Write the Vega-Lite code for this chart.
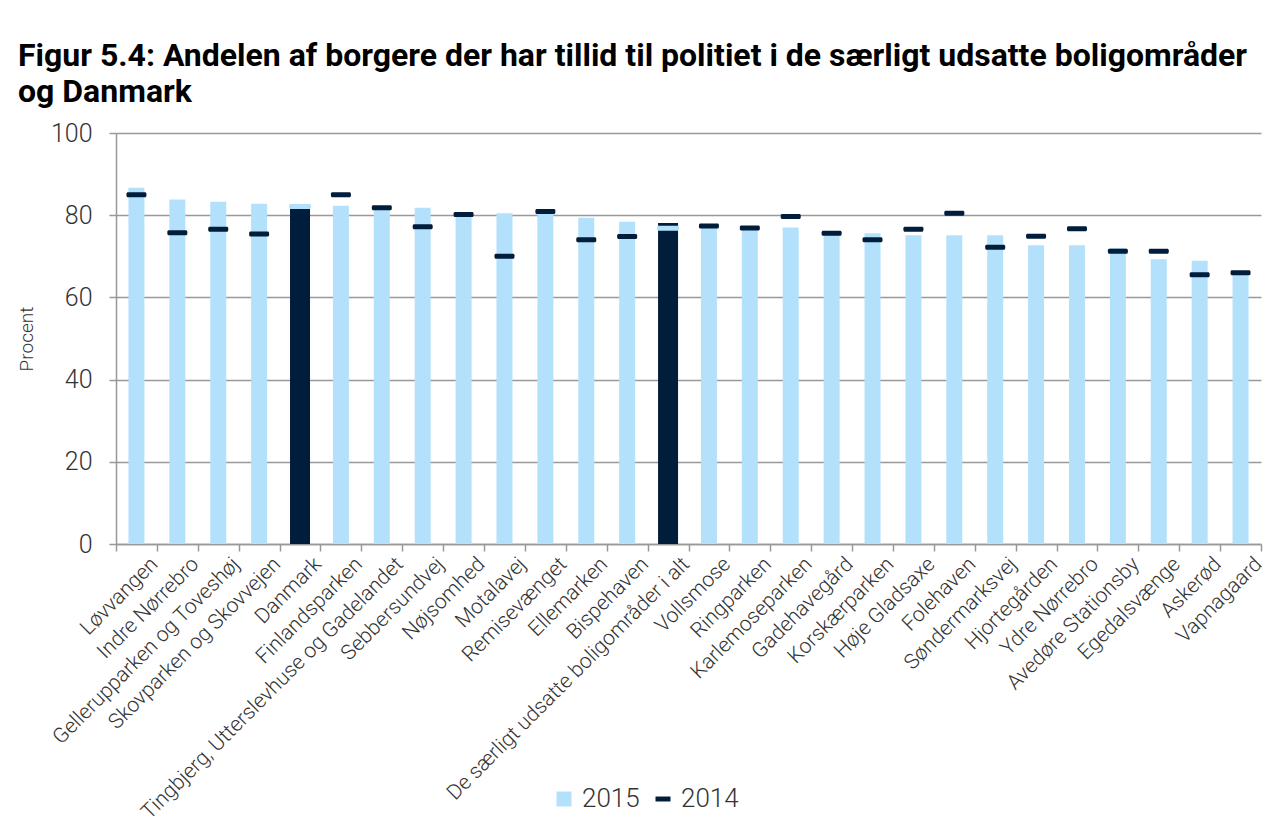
{
  "$schema": "https://vega.github.io/schema/vega-lite/v6.json",
  "autosize": {"type": "none"},
  "width": 1145,
  "height": 411,
  "padding": {"left": 116, "top": 133, "right": 16, "bottom": 286},
  "background": "white",
  "title": {
    "text": ["Figur 5.4: Andelen af borgere der har tillid til politiet i de særligt udsatte boligområder", "og Danmark"],
    "anchor": "start",
    "frame": "group",
    "dx": -98,
    "offset": 12,
    "font": "Roboto",
    "fontSize": 32,
    "fontWeight": "bold",
    "color": "#000000",
    "lineHeight": 36
  },
  "data": {
    "values": [
      {"name": "Løvvangen", "v2015": 86.7, "v2014": 85.0, "hl": false},
      {"name": "Indre Nørrebro", "v2015": 83.8, "v2014": 75.7, "hl": false},
      {"name": "Gellerupparken og Toveshøj", "v2015": 83.3, "v2014": 76.6, "hl": false},
      {"name": "Skovparken og Skovvejen", "v2015": 82.8, "v2014": 75.4, "hl": false},
      {"name": "Danmark", "v2015": 82.3, "v2014": 82.1, "hl": true},
      {"name": "Finlandsparken", "v2015": 82.3, "v2014": 85.0, "hl": false},
      {"name": "Tingbjerg, Utterslevhuse og Gadelandet", "v2015": 81.9, "v2014": 81.8, "hl": false},
      {"name": "Sebbersundvej", "v2015": 81.8, "v2014": 77.2, "hl": false},
      {"name": "Nøjsomhed", "v2015": 80.7, "v2014": 80.2, "hl": false},
      {"name": "Motalavej", "v2015": 80.5, "v2014": 70.0, "hl": false},
      {"name": "Remisevænget", "v2015": 80.4, "v2014": 80.9, "hl": false},
      {"name": "Ellemarken", "v2015": 79.4, "v2014": 74.0, "hl": false},
      {"name": "Bispehaven", "v2015": 78.4, "v2014": 74.8, "hl": false},
      {"name": "De særligt udsatte boligområder i alt", "v2015": 78.1, "v2014": 76.8, "hl": true},
      {"name": "Vollsmose", "v2015": 77.7, "v2014": 77.4, "hl": false},
      {"name": "Ringparken", "v2015": 77.2, "v2014": 76.9, "hl": false},
      {"name": "Karlemoseparken", "v2015": 77.0, "v2014": 79.7, "hl": false},
      {"name": "Gadehavegård", "v2015": 75.9, "v2014": 75.6, "hl": false},
      {"name": "Korskærparken", "v2015": 75.6, "v2014": 74.0, "hl": false},
      {"name": "Høje Gladsaxe", "v2015": 75.1, "v2014": 76.6, "hl": false},
      {"name": "Folehaven", "v2015": 75.1, "v2014": 80.5, "hl": false},
      {"name": "Søndermarksvej", "v2015": 75.1, "v2014": 72.2, "hl": false},
      {"name": "Hjortegården", "v2015": 72.7, "v2014": 74.9, "hl": false},
      {"name": "Ydre Nørrebro", "v2015": 72.7, "v2014": 76.7, "hl": false},
      {"name": "Avedøre Stationsby", "v2015": 72.0, "v2014": 71.2, "hl": false},
      {"name": "Egedalsvænge", "v2015": 69.3, "v2014": 71.2, "hl": false},
      {"name": "Askerød", "v2015": 68.9, "v2014": 65.5, "hl": false},
      {"name": "Vapnagaard", "v2015": 66.3, "v2014": 66.0, "hl": false}
    ]
  },
  "encoding": {
    "x": {
      "field": "name",
      "type": "nominal",
      "sort": null,
      "scale": {"domain": ["Løvvangen", "Indre Nørrebro", "Gellerupparken og Toveshøj", "Skovparken og Skovvejen", "Danmark", "Finlandsparken", "Tingbjerg, Utterslevhuse og Gadelandet", "Sebbersundvej", "Nøjsomhed", "Motalavej", "Remisevænget", "Ellemarken", "Bispehaven", "De særligt udsatte boligområder i alt", "Vollsmose", "Ringparken", "Karlemoseparken", "Gadehavegård", "Korskærparken", "Høje Gladsaxe", "Folehaven", "Søndermarksvej", "Hjortegården", "Ydre Nørrebro", "Avedøre Stationsby", "Egedalsvænge", "Askerød", "Vapnagaard"], "paddingInner": 0, "paddingOuter": 0},
      "axis": {
        "title": null,
        "tickBand": "extent",
        "tickSize": 7,
        "tickColor": "#999999",
        "tickWidth": 1.5,
        "domainColor": "#999999",
        "domainWidth": 1.5,
        "labelAngle": -45,
        "labelFont": "Roboto",
        "labelFontWeight": 300,
        "labelFontSize": 21,
        "labelColor": "#333333",
        "labelPadding": 2,
        "labelOffset": 10,
        "labelLimit": 0,
        "grid": false
      }
    }
  },
  "layer": [
    {
      "transform": [{"filter": "!datum.hl"}],
      "mark": {"type": "bar", "width": 16},
      "encoding": {
        "y": {
          "field": "v2015",
          "type": "quantitative",
          "scale": {"domain": [0, 100], "nice": false},
          "axis": {
            "title": "Procent",
            "titleFont": "Roboto",
            "titleFontWeight": 300,
            "titleFontSize": 19,
            "titleColor": "#333333",
            "titlePadding": 14,
            "values": [0, 20, 40, 60, 80, 100],
            "grid": true,
            "gridColor": "#999999",
            "gridWidth": 1.5,
            "tickColor": "#999999",
            "tickWidth": 1.5,
            "tickSize": 7,
            "domainColor": "#999999",
            "domainWidth": 1.5,
            "labelFont": "Roboto",
            "labelFontWeight": 300,
            "labelFontSize": 25,
            "labelColor": "#333333",
            "labelPadding": 17
          }
        },
        "color": {
          "datum": "2015",
          "type": "nominal",
          "scale": {"domain": ["2015", "2014"], "range": ["#b3e1fb", "#001e3c"]},
          "legend": {
            "title": null,
            "orient": "none",
            "legendX": 435,
            "legendY": 653,
            "direction": "horizontal",
            "padding": 0,
            "symbolSize": 225,
            "labelFont": "Roboto",
            "labelFontWeight": 300,
            "labelFontSize": 26,
            "labelColor": "#333333",
            "labelOffset": 5,
            "columnSpacing": 22,
            "encode": {
              "symbols": {
                "update": {
                  "shape": {"signal": "datum.value === '2014' ? 'M-1,-0.33H1V0.33H-1Z' : 'square'"},
                  "fill": {"scale": "color", "field": "value"},
                  "strokeWidth": {"value": 0},
                  "opacity": {"value": 1}
                }
              }
            }
          }
        }
      }
    },
    {
      "transform": [{"filter": "datum.hl"}],
      "mark": {"type": "bar", "width": 20, "color": "#001e3c"},
      "encoding": {
        "y": {"field": "v2015", "type": "quantitative"}
      }
    },
    {
      "transform": [{"filter": "!datum.hl"}],
      "mark": {"type": "tick", "thickness": 5, "size": 20, "cornerRadius": 1.5, "opacity": 1},
      "encoding": {
        "y": {"field": "v2014", "type": "quantitative"},
        "color": {"datum": "2014", "type": "nominal"}
      }
    },
    {
      "transform": [{"filter": "datum.hl"}],
      "mark": {"type": "tick", "thickness": 5, "size": 22, "cornerRadius": 1.5, "opacity": 1, "color": "#b3e1fb"},
      "encoding": {
        "y": {"field": "v2014", "type": "quantitative"}
      }
    }
  ],
  "config": {
    "view": {"stroke": null}
  }
}
